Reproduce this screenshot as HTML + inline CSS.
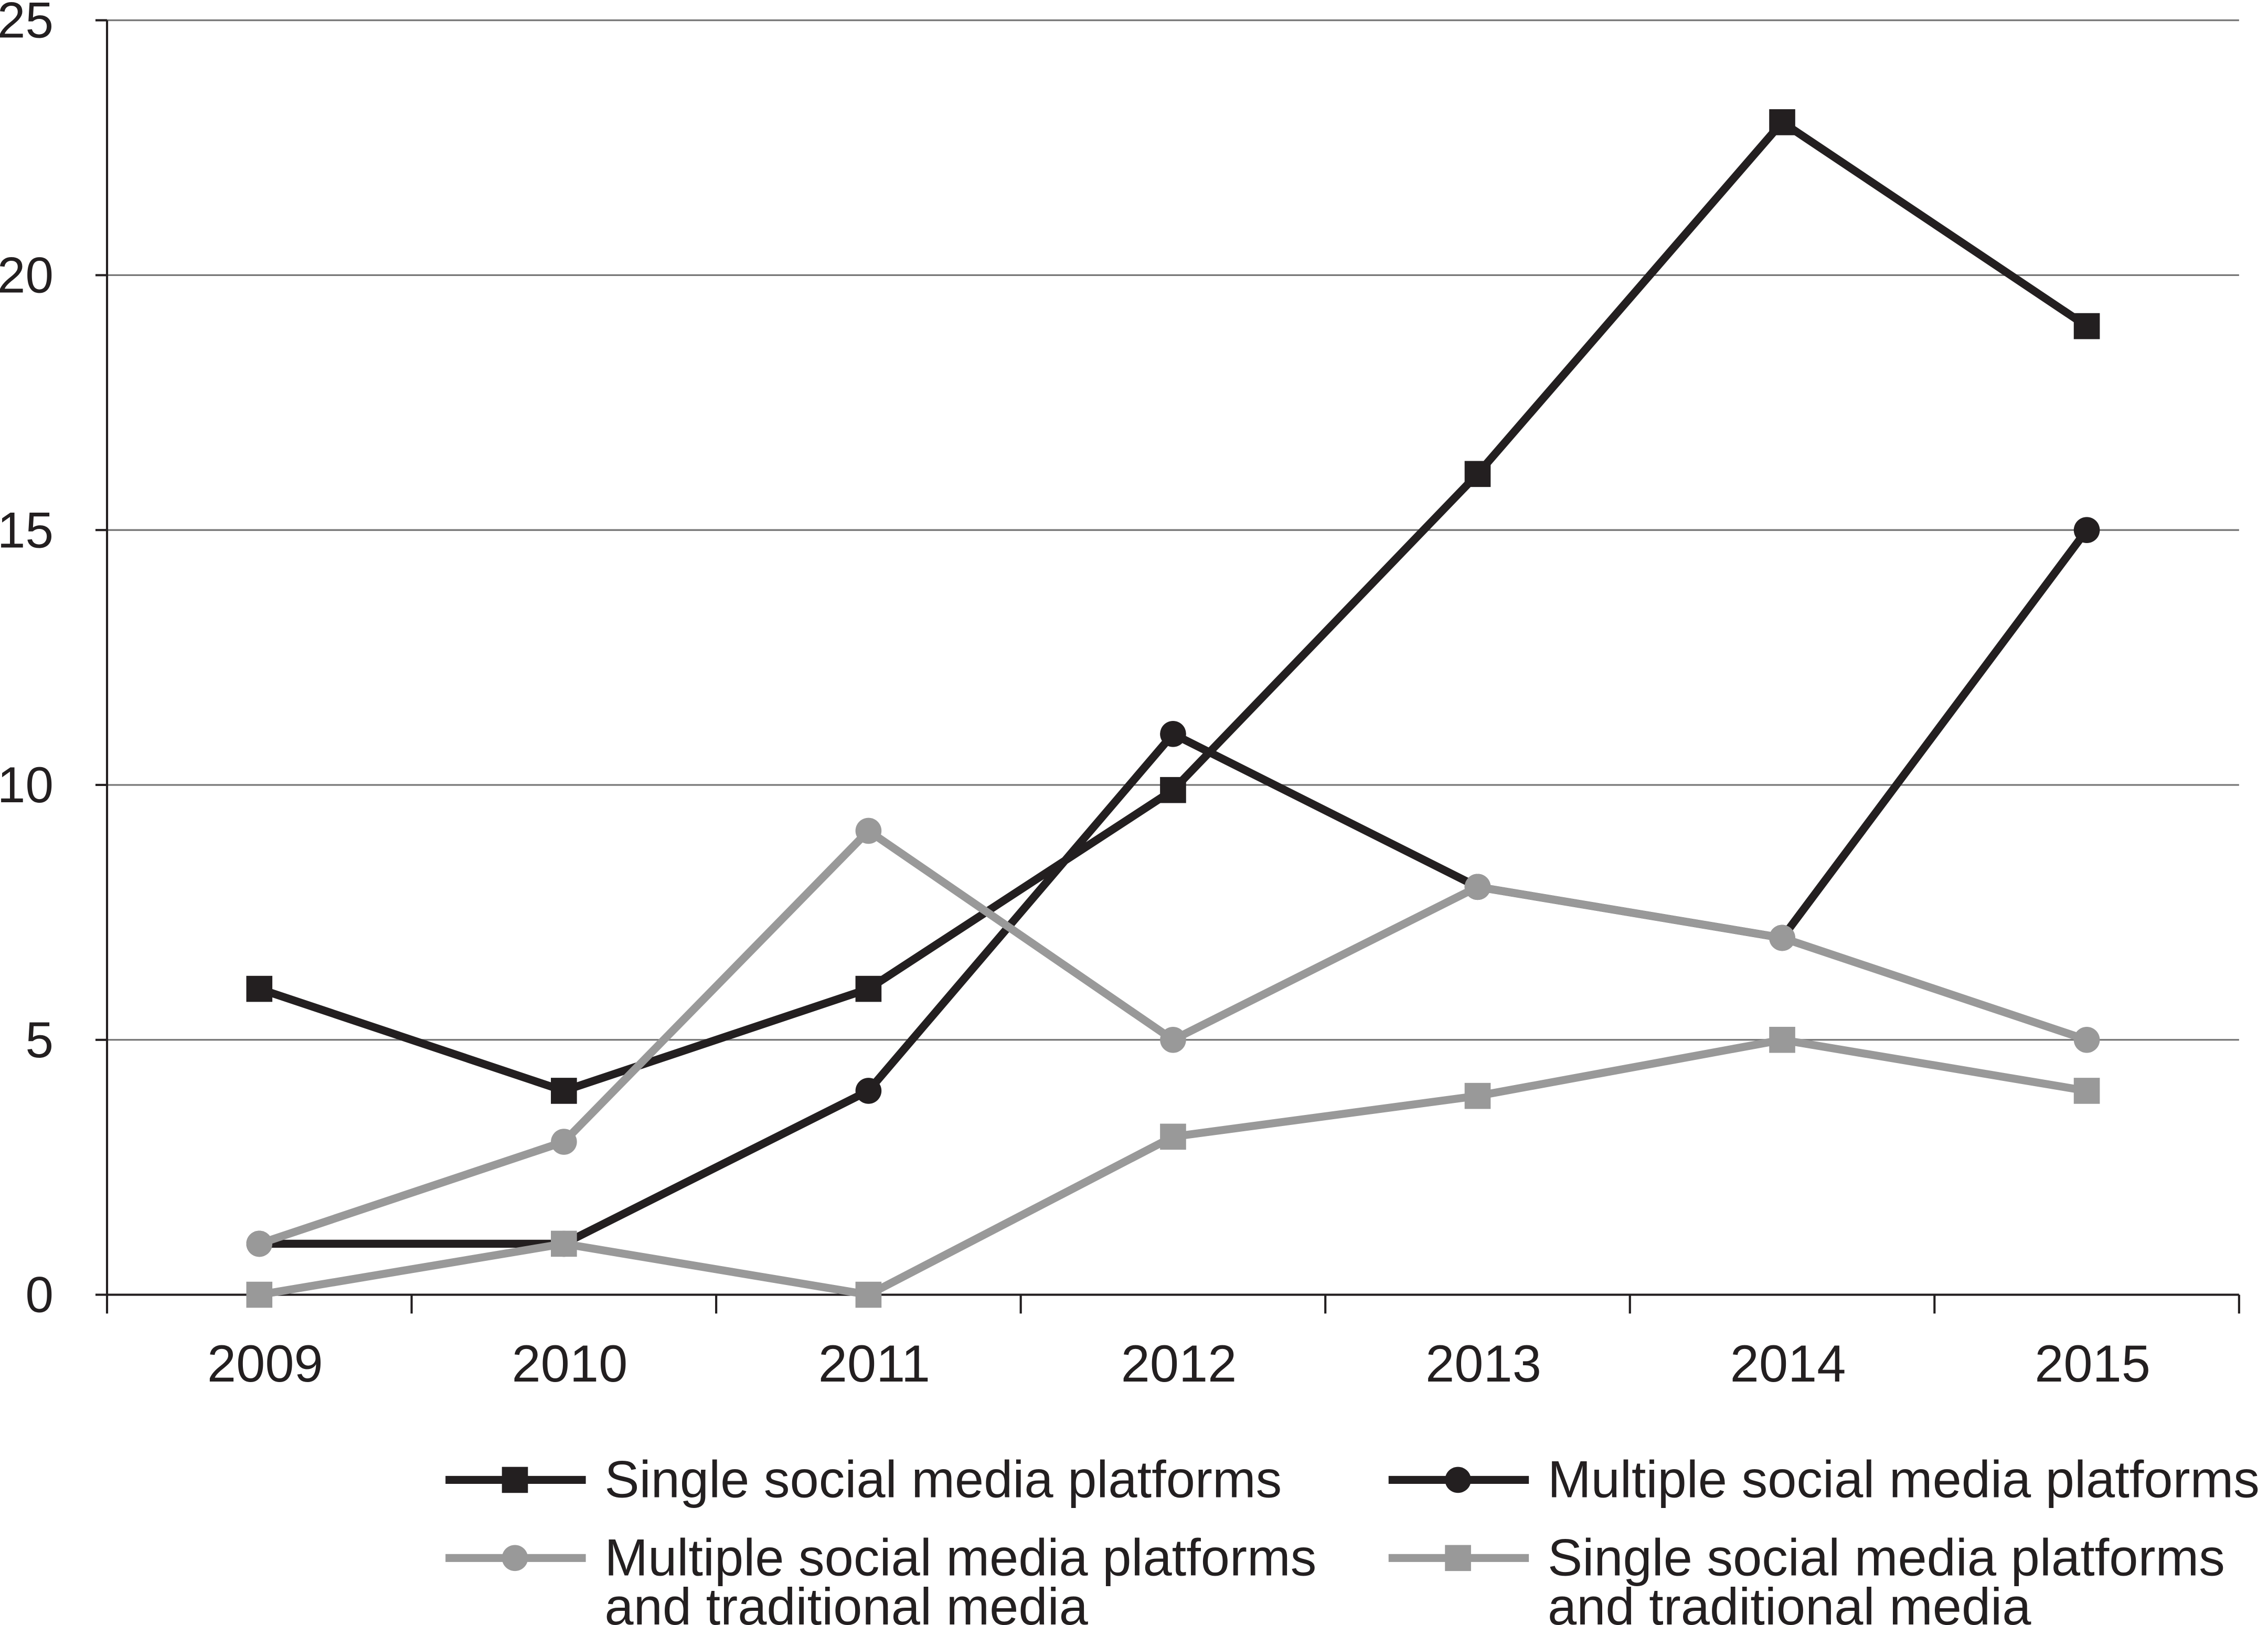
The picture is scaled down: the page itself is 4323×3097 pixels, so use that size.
<!DOCTYPE html>
<html><head><meta charset="utf-8"><style>
html,body{margin:0;padding:0;background:#fff}
svg{display:block}
text{font-family:"Liberation Sans",Arial,sans-serif;fill:#231f20}
</style></head><body>
<svg width="4323" height="3097" viewBox="0 0 1568 1123.3" xmlns="http://www.w3.org/2000/svg">
<g id="grid"></g>
<g id="axes"></g>
<g id="series"></g>
<g id="legend"></g>
</svg>
<script>
const categories = ["2009","2010","2011","2012","2013","2014","2015"];
const yTicks = [0,5,10,15,20,25];
const singleSocial = [6,4,6,9.9,16.1,23,19];
const multipleSocial = [1,1,4,11,8,7,15];
const multipleTrad = [1,3,9.1,5,8,7,5];
const singleTrad = [0,1,0,3.1,3.9,5,4];
const seriesNames = ["Single social media platforms","Multiple social media platforms","Multiple social media platforms|and traditional media","Single social media platforms|and traditional media"];

const NS="http://www.w3.org/2000/svg";
const X0=74,X1=1548,Y0=895,Y1=14,YMAX=25;
const band=(X1-X0)/categories.length;
const xs=i=>X0+band*(i+0.5);
const ys=v=>Y0-(v/YMAX)*(Y0-Y1);
function mk(tag,attrs,parent){const e=document.createElementNS(NS,tag);for(const k in attrs)e.setAttribute(k,attrs[k]);parent.appendChild(e);return e;}
const grid=document.getElementById('grid'),axes=document.getElementById('axes'),ser=document.getElementById('series'),leg=document.getElementById('legend');

yTicks.forEach(t=>{
  if(t>0){const l=mk('line',{x1:X0,x2:X1,y1:ys(t),y2:ys(t),stroke:'#777','stroke-width':1.2},grid);
  
  }
  mk('line',{x1:X0-8,x2:X0,y1:ys(t),y2:ys(t),stroke:'#231f20','stroke-width':1.5},axes);
  const tx=mk('text',{x:37,y:ys(t)+12,'text-anchor':'end','font-size':35},axes);
  tx.textContent=t;
  
  
});
mk('line',{x1:X0,x2:X0,y1:Y1,y2:Y0,stroke:'#231f20','stroke-width':1.5},axes);
mk('line',{x1:X0,x2:X1,y1:Y0,y2:Y0,stroke:'#231f20','stroke-width':1.5},axes);
for(let i=0;i<=categories.length;i++){mk('line',{x1:X0+band*i,x2:X0+band*i,y1:Y0,y2:Y0+13,stroke:'#231f20','stroke-width':1.5},axes);}
categories.forEach((c,i)=>{
  const tx=mk('text',{x:xs(i)+4,y:955,'text-anchor':'middle','font-size':36},axes);
  tx.textContent=c;
  
  
});

function marker(type,x,y,color,parent){
  if(type==='sq') return mk('rect',{x:x-9,y:y-9,width:18,height:18,fill:color},parent);
  return mk('circle',{cx:x,cy:y,r:9,fill:color},parent);
}
const defs=[[multipleSocial,'#231f20','ci'],[singleSocial,'#231f20','sq'],[singleTrad,'#999','sq'],[multipleTrad,'#999','ci']];
const names=['multiple-social','single-social','single-social-traditional','multiple-social-traditional'];
defs.forEach((d,k)=>{
  const g=mk('g',{},ser);
  
  
  const pts=d[0].map((v,i)=>xs(i)+','+ys(v)).join(' ');
  const pl=mk('polyline',{points:pts,fill:'none',stroke:d[1],'stroke-width':5.5,'stroke-linejoin':'miter'},g);
  
  
  d[0].forEach((v,i)=>{const m=marker(d[2],xs(i),ys(v),d[1],g);
    
    });
});

const legDefs=[[308,1023,'#231f20','sq',0],[960,1023,'#231f20','ci',1],[308,1077,'#999','ci',2],[960,1077,'#999','sq',3]];
legDefs.forEach(d=>{
  const g=mk('g',{},leg);
  
  
  mk('line',{x1:d[0],x2:d[0]+97,y1:d[1],y2:d[1],stroke:d[2],'stroke-width':5.5},g);
  marker(d[3],d[0]+48,d[1],d[2],g);
  seriesNames[d[4]].split('|').forEach((ln,j)=>{
    const t=mk('text',{x:d[0]+110,y:d[1]+12+j*34,'font-size':36},g);
    t.textContent=ln;
  });
});
</script>
</body></html>
